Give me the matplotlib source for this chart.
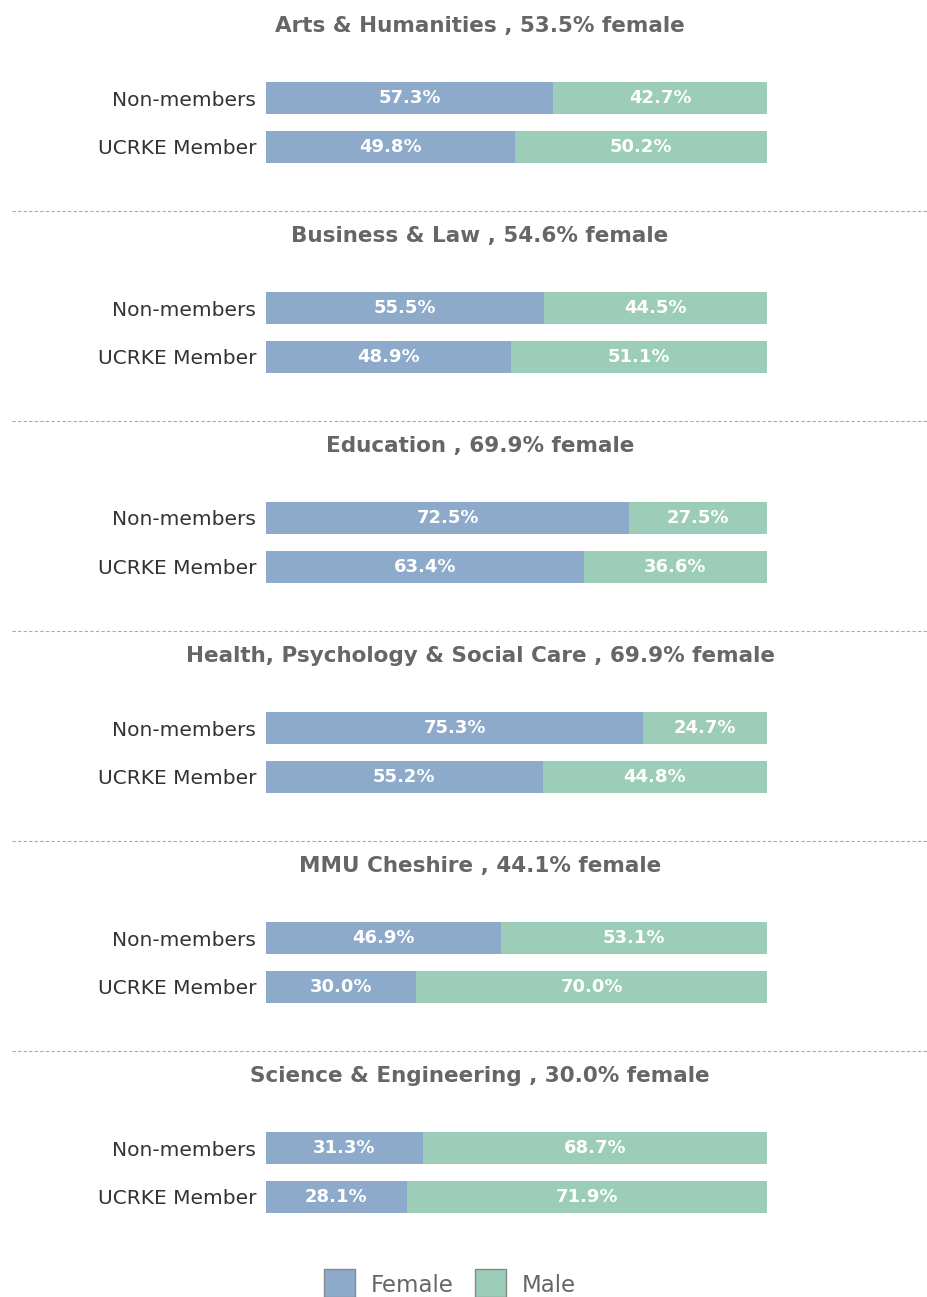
import matplotlib.pyplot as plt
from matplotlib.patches import Rectangle
from matplotlib.lines import Line2D

# datos
facultades = ['Arts & Humanities', 'Business & Law', 'Education',
              'Health, Psychology & Social Care', 'MMU Cheshire', 'Science & Engineering']
pct_female_total = [53.5, 54.6, 69.9, 69.9, 44.1, 30.0]
grupos = ['Non-members', 'UCRKE Member']
female_non = [57.3, 55.5, 72.5, 75.3, 46.9, 31.3]
female_ucrke = [49.8, 48.9, 63.4, 55.2, 30.0, 28.1]
male_non = [42.7, 44.5, 27.5, 24.7, 53.1, 68.7]
male_ucrke = [50.2, 51.1, 36.6, 44.8, 70.0, 71.9]

c_female = '#8eaacb'
c_male = '#9ccdb8'
gris = '#666666'

W, H = 928, 1297
fig = plt.figure(figsize=(W / 100, H / 100), dpi=100)

label_font = ['Liberation Sans Narrow', 'DejaVu Sans']

def fx(px):
    return px / W

def fy(py):
    return 1 - py / H

paso = 210
for i, fac in enumerate(facultades):
    off = i * paso
    # titulo
    fig.text(fx(480), fy(26 + off), f'{fac} , {pct_female_total[i]:.1f}% female',
             ha='center', va='center', fontsize=15.5, fontweight='bold', color=gris)
    # ejes de las barras
    top, bot = 73.5 + off, 171.5 + off
    ax = fig.add_axes([fx(266), fy(bot), fx(767) - fx(266), (bot - top) / H])
    fem = [female_ucrke[i], female_non[i]]
    mal = [male_ucrke[i], male_non[i]]
    ys = [0, 1]
    ax.barh(ys, fem, height=0.65, color=c_female)
    ax.barh(ys, mal, left=fem, height=0.65, color=c_male)
    for y, f, m in zip(ys, fem, mal):
        ax.text(f / 2, y, f'{f:.1f}%', ha='center', va='center', color='white',
                fontsize=13, fontweight='bold', family=label_font)
        ax.text(f + m / 2, y, f'{m:.1f}%', ha='center', va='center', color='white',
                fontsize=13, fontweight='bold', family=label_font)
    ax.set_xlim(0, 100)
    ax.set_ylim(-0.5, 1.5)
    ax.set_yticks(ys)
    ax.set_yticklabels(grupos[::-1], fontsize=14.5, color='#333333')
    ax.tick_params(axis='y', length=0, pad=7)
    ax.set_xticks([])
    for s in ax.spines.values():
        s.set_visible(False)
    # separador
    if i < len(facultades) - 1:
        fig.add_artist(Line2D([fx(12), 1], [fy(211 + off)] * 2, color='#aaaaaa',
                              lw=0.8, ls=(0, (3, 2))))

# leyenda
for x0, txt, col in [(324, 'Female', c_female), (475, 'Male', c_male)]:
    fig.add_artist(Rectangle((fx(x0), fy(1297)), fx(31), 28 / H, facecolor=col,
                             edgecolor='#888888', lw=1, transform=fig.transFigure))
    fig.text(fx(x0 + 47), fy(1285), txt, ha='left', va='center', fontsize=16.5, color=gris)

fig.savefig('out.png', dpi=100)
